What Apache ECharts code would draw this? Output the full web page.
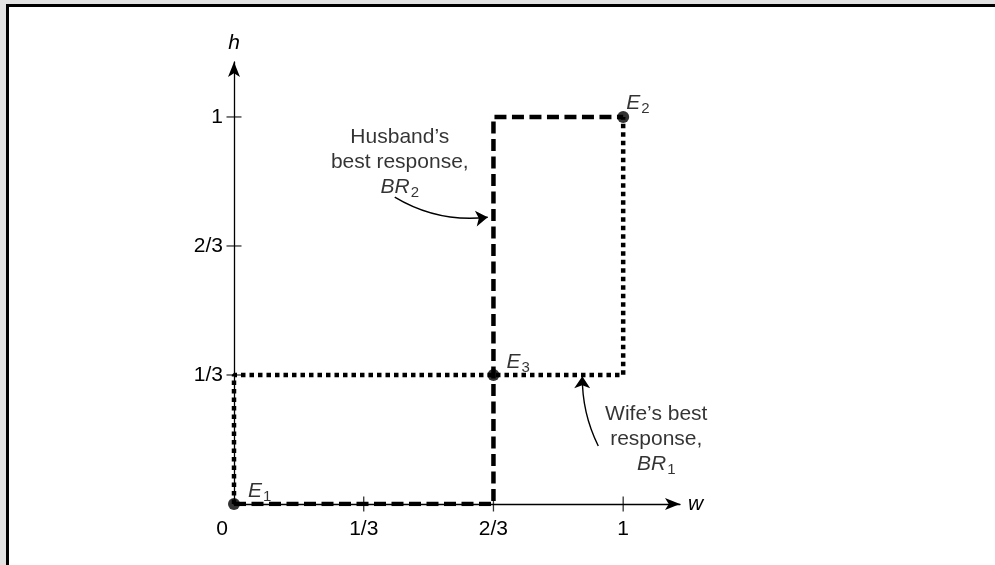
<!DOCTYPE html>
<html>
<head>
<meta charset="utf-8">
<script src="https://cdn.jsdelivr.net/npm/echarts@6/dist/echarts.min.js"></script>
<style>
  html, body { margin: 0; padding: 0; }
  body { width: 995px; height: 565px; overflow: hidden; position: relative; background: #e2e2e2; }
  #frame { position: absolute; left: 6px; top: 4px; width: 1000px; height: 600px; background: #fff;
           border-top: 3px solid #000; border-left: 3px solid #000; }
  #main { position: absolute; left: 0; top: 0; width: 995px; height: 565px; }
</style>
</head>
<body>
<div id="frame"></div>
<div id="main"></div>
<script>
// tick values / labels (fractions of 1)
const tickValues = [1 / 3, 2 / 3, 1];
const xTickLabels = ['0', '1/3', '2/3', '1'];
const yTickLabels = ['', '1/3', '2/3', '1'];

// best response curves (w, h)
const husbandBR = [[0, 0], [2 / 3, 0], [2 / 3, 1], [1, 1]];
const wifeBR = [[0, 0], [0, 1 / 3], [1, 1 / 3], [1, 1]];

// equilibria
const equilibria = [[0, 0], [1, 1], [2 / 3, 1 / 3]];
const eqSubs = ['1', '2', '3'];

// annotation texts and where they sit (data coords)
const annotTexts = ['Husband’s\nbest response,\n{i|BR}{s|2}', 'Wife’s best\nresponse,\n{i|BR}{s|1}'];
const annotPos = [[0.426, 0.883], [1.085, 0.168]];
const arrowCoords = [
  [[0.413, 0.793], [0.652, 0.741]],
  [[0.936, 0.150], [0.895, 0.330]]
];
const arrowCurve = [-0.17, 0.12];
const eqLabelOffset = [[14, -13], [3, -14], [13, -13]];

const FONT = '"Liberation Sans", Arial, Helvetica, sans-serif';
const rich = {
  i: { fontStyle: 'italic', fontSize: 21, fontFamily: FONT, color: '#000' },
  s: { fontSize: 15, fontFamily: FONT, color: '#000', padding: [12, 0, 0, 1] }
};

function fracLabel(labels) {
  return function (v) {
    const k = Math.round(v * 3);
    return Math.abs(v * 3 - k) < 1e-6 && labels[k] !== undefined ? labels[k] : '';
  };
}

const myChart = echarts.init(document.getElementById('main'));
myChart.setOption({
  animation: false,
  backgroundColor: 'transparent',
  grid: { left: 234, right: 315, top: 62, bottom: 61 },
  xAxis: {
    type: 'value', min: 0, max: 1.146, interval: 1 / 3,
    name: 'w', nameLocation: 'end', nameGap: 8,
    nameTextStyle: { fontStyle: 'italic', fontSize: 21, fontFamily: FONT, color: '#000', verticalAlign: 'middle' },
    axisLine: { lineStyle: { color: '#000', width: 1.3 }, symbol: ['none', 'arrow'], symbolSize: [9, 15] },
    axisTick: { show: false },
    splitLine: { show: false },
    axisLabel: {
      margin: 15, fontSize: 21, fontFamily: FONT, color: '#000',
      formatter: function (v) {
        const s = fracLabel(xTickLabels)(v);
        return s === '0' ? '{z|0}' : s;
      },
      rich: { z: { fontSize: 21, fontFamily: FONT, color: '#000', padding: [0, 24, 0, 0] } }
    }
  },
  yAxis: {
    type: 'value', min: 0, max: 1.142, interval: 1 / 3,
    name: 'h', nameLocation: 'end', nameGap: 8,
    nameTextStyle: { fontStyle: 'italic', fontSize: 21, fontFamily: FONT, color: '#000' },
    axisLine: { lineStyle: { color: '#000', width: 1.3 }, symbol: ['none', 'arrow'], symbolSize: [9, 15] },
    axisTick: { show: false },
    splitLine: { show: false },
    axisLabel: { margin: 11, fontSize: 21, fontFamily: FONT, color: '#000', formatter: fracLabel(yTickLabels) }
  },
  series: [
    {
      name: 'Wife BR1', type: 'line', data: wifeBR, symbol: 'none', z: 3,
      lineStyle: { color: '#000', width: 4.5, type: [4.5, 4], cap: 'butt' }
    },
    {
      name: 'Husband BR2', type: 'line', data: husbandBR, symbol: 'none', z: 4,
      lineStyle: { color: '#000', width: 4.5, type: [12, 5.5], cap: 'butt' }
    },
    {
      name: 'xticks', type: 'scatter', silent: true, z: 2,
      data: tickValues.map(v => [v, 0]),
      symbol: 'rect', symbolSize: [1.3, 15], itemStyle: { color: '#000' }
    },
    {
      name: 'yticks', type: 'scatter', silent: true, z: 2,
      data: tickValues.map(v => [0, v]),
      symbol: 'rect', symbolSize: [15, 1.3], itemStyle: { color: '#000' }
    },
    {
      name: 'equilibria', type: 'scatter', z: 6,
      symbol: 'circle', symbolSize: 12, itemStyle: { color: '#000' },
      data: equilibria.map((c, i) => ({ value: c, label: { offset: eqLabelOffset[i] } })),
      label: {
        show: true, position: 'inside', align: 'left', verticalAlign: 'middle',
        color: '#000', textBorderWidth: 0, textBorderColor: 'transparent',
        formatter: p => '{i|E}{s|' + eqSubs[p.dataIndex] + '}', rich: rich
      }
    },
    {
      name: 'arrows', type: 'lines', coordinateSystem: 'cartesian2d', z: 5, silent: true,
      symbol: ['none', 'arrow'], symbolSize: [0, 12],
      data: arrowCoords.map((c, i) => ({ coords: c, lineStyle: { curveness: arrowCurve[i] } })),
      lineStyle: { color: '#000', width: 1.4, opacity: 1 }
    },
    {
      name: 'notes', type: 'scatter', z: 6, silent: true,
      symbolSize: 1, itemStyle: { color: 'transparent' },
      data: annotPos,
      label: {
        show: true, position: 'inside', align: 'center', verticalAlign: 'middle',
        fontSize: 21, lineHeight: 25, fontFamily: FONT, color: '#000',
        textBorderWidth: 0, textBorderColor: 'transparent',
        formatter: p => annotTexts[p.dataIndex], rich: rich
      }
    }
  ]
});
</script>
</body>
</html>
